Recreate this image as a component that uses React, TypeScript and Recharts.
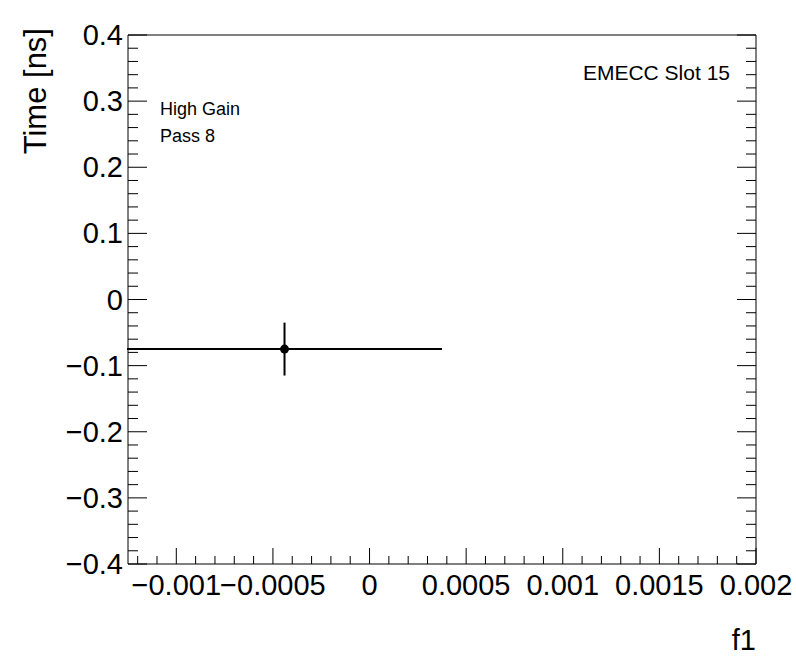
import { ScatterChart, Scatter, XAxis, YAxis, ErrorBar } from "recharts";

// tick positions / labels
const xMajorTicks = [-0.001, -0.0005, 0, 0.0005, 0.001, 0.0015, 0.002];
const xTickLabels = ["\u22120.001", "\u22120.0005", "0", "0.0005", "0.001", "0.0015", "0.002"];
const yMajorTicks = [-0.4, -0.3, -0.2, -0.1, 0, 0.1, 0.2, 0.3, 0.4];
const yTickLabels = ["\u22120.4", "\u22120.3", "\u22120.2", "\u22120.1", "0", "0.1", "0.2", "0.3", "0.4"];

// the single measurement
const pointX = [-0.00044];
const pointY = [-0.075];
const pointXErr = [0.000815];
const pointYErr = [0.04];

const X_DOMAIN: [number, number] = [-0.00125, 0.002];
const Y_DOMAIN: [number, number] = [-0.4, 0.4];

const data = pointX.map((x, i) => ({
  x,
  y: pointY[i],
  xerr: pointXErr[i],
  yerr: pointYErr[i],
}));

// minor tick grid (axis decoration only)
function minorTicks(lo: number, hi: number, step: number) {
  const out: number[] = [];
  for (let i = Math.ceil(lo / step - 1e-6); i <= Math.floor(hi / step + 1e-6); i++) {
    out.push(Math.round(i * step * 1e7) / 1e7);
  }
  return out;
}
const xAllTicks = minorTicks(X_DOMAIN[0], X_DOMAIN[1], 0.0001);
const yAllTicks = minorTicks(Y_DOMAIN[0], Y_DOMAIN[1], 0.02);

const FONT = "'Liberation Sans', Arial, Helvetica, sans-serif";
const majorIdx = (arr: number[], v: number) => arr.findIndex((t) => Math.abs(t - v) < 1e-9);

const BottomTick = (props: any) => {
  const { x, y, payload } = props;
  const i = majorIdx(xMajorTicks, payload.value);
  return (
    <g>
      <line x1={x} y1={y} x2={x} y2={y - (i >= 0 ? 16 : 8)} stroke="#000" />
      {i >= 0 && (
        <text x={x} y={y + 31} textAnchor="middle" fontSize={29} fontFamily={FONT} fill="#000">
          {xTickLabels[i]}
        </text>
      )}
    </g>
  );
};

const TopTick = (props: any) => {
  const { x, y, payload } = props;
  const i = majorIdx(xMajorTicks, payload.value);
  return <line x1={x} y1={y} x2={x} y2={y + (i >= 0 ? 16 : 8)} stroke="#000" />;
};

const LeftTick = (props: any) => {
  const { x, y, payload } = props;
  const i = majorIdx(yMajorTicks, payload.value);
  return (
    <g>
      <line x1={x} y1={y} x2={x + (i >= 0 ? 19 : 10)} y2={y} stroke="#000" />
      {i >= 0 && (
        <text x={x - 5} y={y + 10} textAnchor="end" fontSize={29} fontFamily={FONT} fill="#000">
          {yTickLabels[i]}
        </text>
      )}
    </g>
  );
};

const RightTick = (props: any) => {
  const { x, y, payload } = props;
  const i = majorIdx(yMajorTicks, payload.value);
  return <line x1={x} y1={y} x2={x - (i >= 0 ? 19 : 10)} y2={y} stroke="#000" />;
};

const Dot = (props: any) => <circle cx={props.cx} cy={props.cy} r={4.5} fill="#000" />;

export default function App() {
  return (
    <div style={{ position: "absolute", left: 0, top: 0, background: "#fff" }}>
      <ScatterChart
        width={796}
        height={672}
        margin={{ top: 34, right: 39, bottom: 107, left: 127 }}
      >
        <XAxis
          xAxisId="bottom"
          type="number"
          dataKey="x"
          domain={X_DOMAIN}
          allowDataOverflow
          ticks={xAllTicks}
          interval={0}
          height={1}
          tickSize={0}
          tickMargin={0}
          tickLine={false}
          tick={BottomTick}
          axisLine={{ stroke: "#000" }}
        />
        <XAxis
          xAxisId="top"
          orientation="top"
          type="number"
          domain={X_DOMAIN}
          allowDataOverflow
          ticks={xAllTicks}
          interval={0}
          height={1}
          tickSize={0}
          tickMargin={0}
          tickLine={false}
          tick={TopTick}
          axisLine={{ stroke: "#000" }}
        />
        <YAxis
          yAxisId="left"
          type="number"
          dataKey="y"
          domain={Y_DOMAIN}
          allowDataOverflow
          ticks={yAllTicks}
          interval={0}
          width={1}
          tickSize={0}
          tickMargin={0}
          tickLine={false}
          tick={LeftTick}
          axisLine={{ stroke: "#000" }}
        />
        <YAxis
          yAxisId="right"
          orientation="right"
          type="number"
          domain={Y_DOMAIN}
          allowDataOverflow
          ticks={yAllTicks}
          interval={0}
          width={1}
          tickSize={0}
          tickMargin={0}
          tickLine={false}
          tick={RightTick}
          axisLine={{ stroke: "#000" }}
        />
        <Scatter
          data={data}
          xAxisId="bottom"
          yAxisId="left"
          shape={Dot}
          isAnimationActive={false}
        >
          <ErrorBar dataKey="xerr" direction="x" width={0} stroke="#000" strokeWidth={2} />
          <ErrorBar dataKey="yerr" direction="y" width={0} stroke="#000" strokeWidth={2} />
        </Scatter>

        <text x={160} y={115} fontSize={18} fontFamily={FONT} fill="#000">High Gain</text>
        <text x={160} y={142} fontSize={18} fontFamily={FONT} fill="#000">Pass 8</text>
        <text x={730} y={80} textAnchor="end" fontSize={21} fontFamily={FONT} fill="#000">
          EMECC Slot 15
        </text>
        <text
          x={46}
          y={28}
          transform="rotate(-90 46 28)"
          textAnchor="end"
          fontSize={31}
          fontFamily={FONT}
          fill="#000"
        >
          Time [ns]
        </text>
        <text x={756} y={650} textAnchor="end" fontSize={29} fontFamily={FONT} fill="#000">
          f1
        </text>
      </ScatterChart>
    </div>
  );
}
